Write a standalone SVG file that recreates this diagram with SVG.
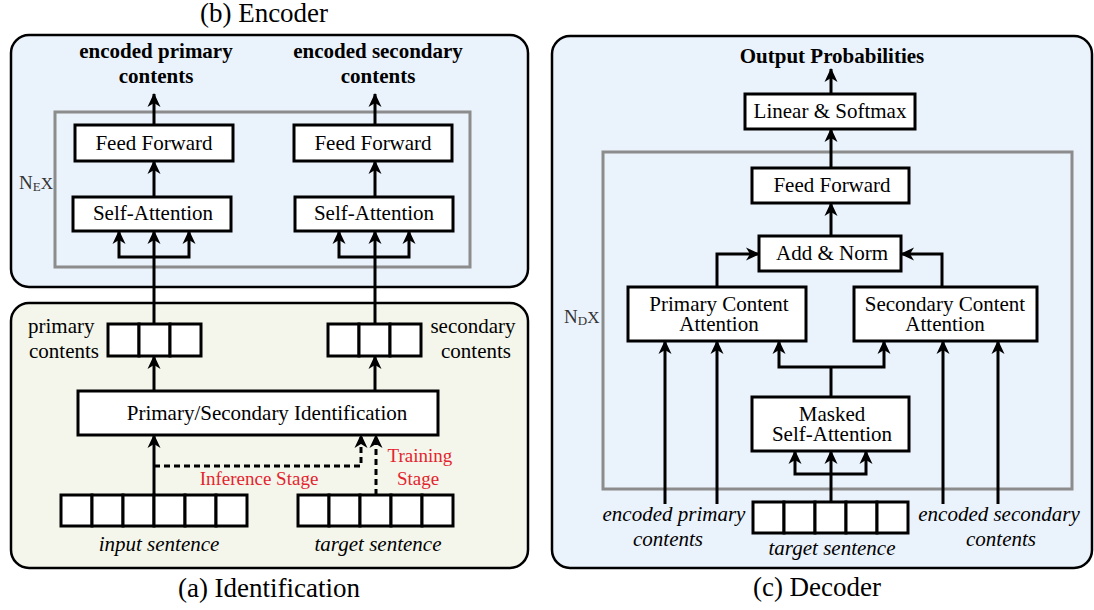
<svg xmlns="http://www.w3.org/2000/svg" width="1094" height="610" viewBox="0 0 1094 610">
<style>
text{font-family:"Liberation Serif","Times New Roman",serif;fill:#000;}
.t{font-size:21px;text-anchor:middle;}
.b{font-size:21px;font-weight:bold;text-anchor:middle;}
.i{font-size:21px;font-style:italic;text-anchor:middle;}
.cap{font-size:27px;text-anchor:middle;}
.red{font-size:19px;fill:#e3242f;text-anchor:middle;}
.box{fill:#fff;stroke:#000;stroke-width:3;}
.cell{fill:#fff;stroke:#000;stroke-width:3;}
.panelB{fill:#eaf2fb;stroke:#000;stroke-width:2.5;}
.panelA{fill:#f4f6eb;stroke:#000;stroke-width:2.5;}
.gray{fill:none;stroke:#8c8c8c;stroke-width:3;}
.c{fill:none;stroke:#000;stroke-width:3;}
.ca{fill:none;stroke:#000;stroke-width:3;marker-end:url(#ah);}
.cd{fill:none;stroke:#000;stroke-width:3;stroke-dasharray:6 4;marker-end:url(#ah);}
.n{font-size:19px;fill:#333;}
</style>
<defs>
<marker id="ah" viewBox="-14 -7 15 14" refX="0" refY="0" markerWidth="15" markerHeight="14" markerUnits="userSpaceOnUse" orient="auto">
<path d="M1,0 L-13,-6.5 L-9,0 L-13,6.5 Z" fill="#000"/>
</marker>
</defs>

<!-- panels -->
<g id="encoder-panel">
<rect class="panelB" x="11" y="35" width="517" height="252" rx="18"/>
<rect class="gray" x="55" y="112" width="415" height="155"/>
<text class="cap" x="264" y="22">(b) Encoder</text>
<text class="n" x="19" y="189">N<tspan font-size="13" dy="2">E</tspan><tspan font-size="17" dy="-2">X</tspan></text>
<text class="b" x="156" y="58">encoded primary</text>
<text class="b" x="156" y="83">contents</text>
<text class="b" x="378" y="58">encoded secondary</text>
<text class="b" x="378" y="83">contents</text>
</g>
<g id="identification-panel">
<rect class="panelA" x="11" y="303" width="517" height="265" rx="18"/>
<text class="cap" x="269" y="597">(a) Identification</text>
</g>
<g id="decoder-panel">
<rect class="panelB" x="552" y="36" width="540" height="532" rx="18"/>
<rect class="gray" x="603" y="152" width="469" height="337"/>
<text class="cap" x="817" y="596">(c) Decoder</text>
<text class="n" x="564" y="323">N<tspan font-size="13" dy="2">D</tspan><tspan font-size="17" dy="-2">X</tspan></text>
<text class="b" x="832" y="63">Output Probabilities</text>
</g>

<!-- connectors -->
<g id="connectors">
<path class="ca" d="M154,324 V231"/>
<path class="ca" d="M154,257 H119 V231"/>
<path class="ca" d="M154,257 H189 V231"/>
<path class="ca" d="M154,197 V161"/>
<path class="ca" d="M154,125 V94"/>
<path class="ca" d="M375,324 V231"/>
<path class="ca" d="M375,257 H339 V231"/>
<path class="ca" d="M375,257 H409 V231"/>
<path class="ca" d="M375,197 V161"/>
<path class="ca" d="M375,125 V94"/>
<path class="ca" d="M154,391 V356"/>
<path class="ca" d="M375,391 V356"/>
<path class="ca" d="M154,495 V435"/>
<path class="cd" d="M154,466 H361 V435"/>
<path class="cd" d="M376,495 V435"/>
<path class="ca" d="M831,94 V69"/>
<path class="ca" d="M831,168 V129"/>
<path class="ca" d="M831,236 V203"/>
<path class="ca" d="M717,287 V254 H759"/>
<path class="ca" d="M942,287 V254 H901"/>
<path class="ca" d="M665,504 V341"/>
<path class="ca" d="M717,504 V341"/>
<path class="ca" d="M943,504 V341"/>
<path class="ca" d="M998,504 V341"/>
<path class="c" d="M831,397 V367"/>
<path class="ca" d="M831,367 H779 V341"/>
<path class="ca" d="M831,367 H884 V341"/>
<path class="ca" d="M831,502 V451"/>
<path class="ca" d="M831,474 H795 V451"/>
<path class="ca" d="M831,474 H866 V451"/>
</g>

<!-- encoder nodes -->
<g id="enc-ff-left"><rect class="box" x="75" y="125" width="158" height="36"/><text class="t" x="154" y="150">Feed Forward</text></g>
<g id="enc-sa-left"><rect class="box" x="73" y="197" width="158" height="34"/><text class="t" x="153" y="220">Self-Attention</text></g>
<g id="enc-ff-right"><rect class="box" x="294" y="125" width="158" height="36"/><text class="t" x="373" y="150">Feed Forward</text></g>
<g id="enc-sa-right"><rect class="box" x="295" y="197" width="158" height="34"/><text class="t" x="374" y="220">Self-Attention</text></g>

<!-- identification nodes -->
<g id="primary-contents">
<rect class="cell" x="108" y="324" width="31" height="32"/><rect class="cell" x="139" y="324" width="31" height="32"/><rect class="cell" x="170" y="324" width="31" height="32"/>
<text class="t" x="28" y="333" style="text-anchor:start">primary</text>
<text class="t" x="29" y="358" style="text-anchor:start">contents</text>
</g>
<g id="secondary-contents">
<rect class="cell" x="328" y="324" width="31" height="32"/><rect class="cell" x="359" y="324" width="31" height="32"/><rect class="cell" x="390" y="324" width="31" height="32"/>
<text class="t" x="473" y="333">secondary</text>
<text class="t" x="476" y="358">contents</text>
</g>
<g id="identification"><rect class="box" x="78" y="391" width="360" height="44"/><text class="t" x="267" y="420">Primary/Secondary Identification</text></g>
<g id="input-sentence">
<rect class="cell" x="61" y="495" width="31" height="31"/><rect class="cell" x="92" y="495" width="31" height="31"/><rect class="cell" x="123" y="495" width="31" height="31"/><rect class="cell" x="154" y="495" width="31" height="31"/><rect class="cell" x="185" y="495" width="31" height="31"/><rect class="cell" x="216" y="495" width="31" height="31"/>
<text class="i" x="159" y="551">input sentence</text>
</g>
<g id="target-sentence-a">
<rect class="cell" x="298" y="495" width="31" height="31"/><rect class="cell" x="329" y="495" width="31" height="31"/><rect class="cell" x="360" y="495" width="31" height="31"/><rect class="cell" x="391" y="495" width="31" height="31"/><rect class="cell" x="422" y="495" width="31" height="31"/>
<text class="i" x="378" y="551">target sentence</text>
</g>
<g id="stage-labels">
<text class="red" x="259" y="485">Inference Stage</text>
<text class="red" x="420" y="462">Training</text>
<text class="red" x="418" y="485">Stage</text>
</g>

<!-- decoder nodes -->
<g id="linear-softmax"><rect class="box" x="745" y="94" width="170" height="35"/><text class="t" x="830" y="118">Linear &amp; Softmax</text></g>
<g id="dec-ff"><rect class="box" x="752" y="168" width="157" height="35"/><text class="t" x="832" y="192">Feed Forward</text></g>
<g id="add-norm"><rect class="box" x="759" y="236" width="142" height="35"/><text class="t" x="832" y="260">Add &amp; Norm</text></g>
<g id="primary-attn"><rect class="box" x="628" y="287" width="178" height="54"/><text class="t" x="719" y="311">Primary Content</text><text class="t" x="719" y="331">Attention</text></g>
<g id="secondary-attn"><rect class="box" x="854" y="287" width="183" height="54"/><text class="t" x="945" y="311">Secondary Content</text><text class="t" x="945" y="331">Attention</text></g>
<g id="masked-sa"><rect class="box" x="752" y="397" width="157" height="54"/><text class="t" x="832" y="421">Masked</text><text class="t" x="832" y="441">Self-Attention</text></g>
<g id="target-sentence-c">
<rect class="cell" x="753" y="502" width="31" height="31"/><rect class="cell" x="784" y="502" width="31" height="31"/><rect class="cell" x="815" y="502" width="31" height="31"/><rect class="cell" x="846" y="502" width="31" height="31"/><rect class="cell" x="877" y="502" width="31" height="31"/>
<text class="i" x="832" y="555">target sentence</text>
</g>
<g id="enc-primary-in"><text class="i" x="674" y="521">encoded primary</text><text class="i" x="668" y="546">contents</text></g>
<g id="enc-secondary-in"><text class="i" x="999" y="521">encoded secondary</text><text class="i" x="1001" y="546">contents</text></g>
</svg>
